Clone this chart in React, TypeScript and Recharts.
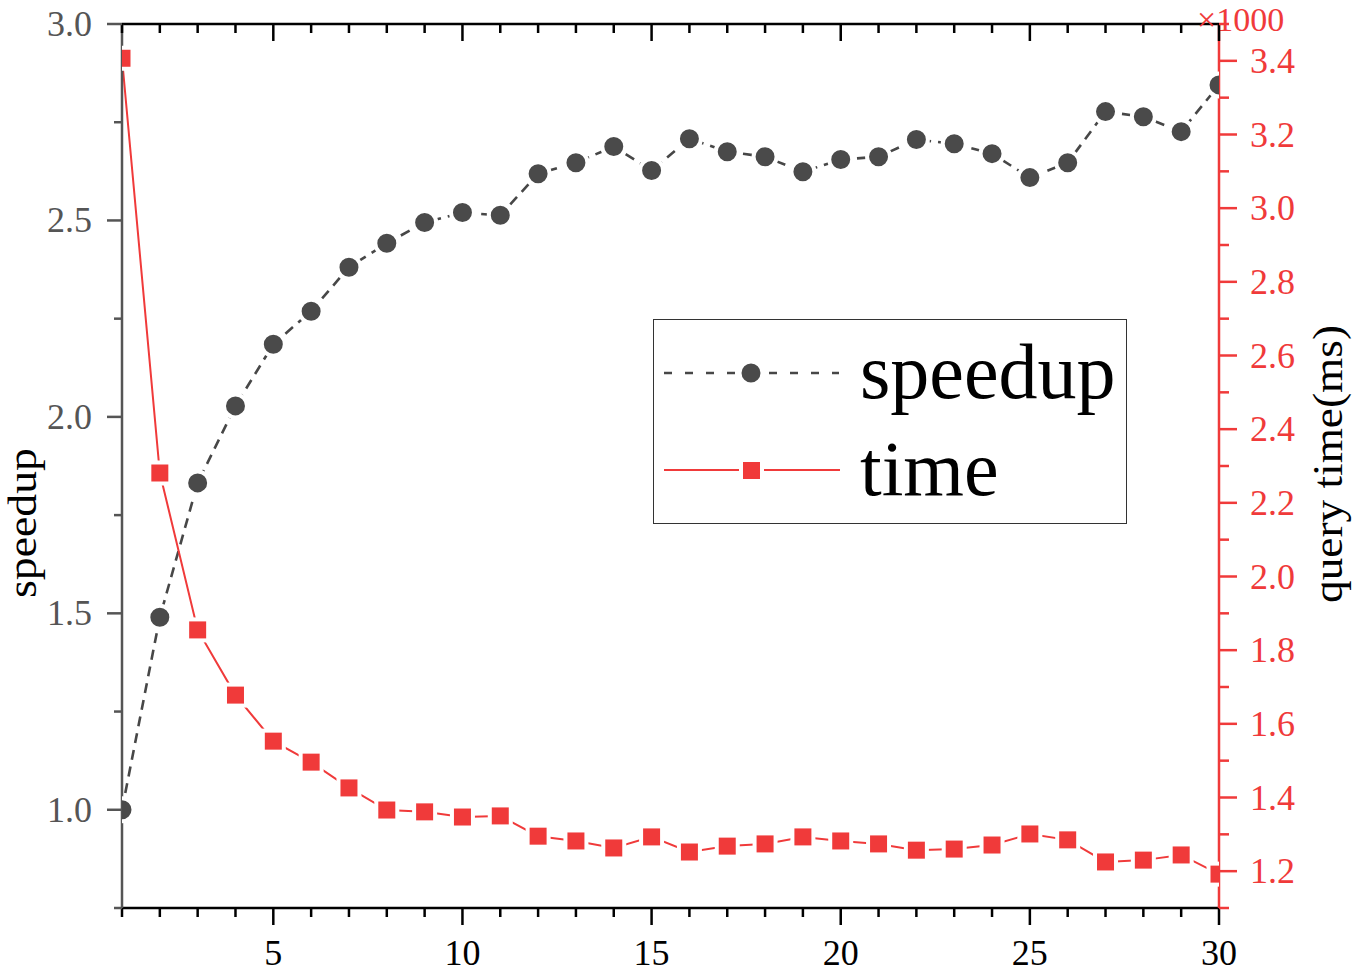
import React from 'react';
import { LineChart, Line, XAxis, YAxis, Legend } from 'recharts';

const xValues = [1, 2, 3, 4, 5, 6, 7, 8, 9, 10, 11, 12, 13, 14, 15, 16, 17, 18, 19, 20, 21, 22, 23, 24, 25, 26, 27, 28, 29, 30];
const speedupValues = [1.0, 1.49, 1.832, 2.028, 2.185, 2.269, 2.381, 2.442, 2.495, 2.52, 2.513, 2.619, 2.647, 2.688, 2.627, 2.708, 2.675, 2.662, 2.624, 2.655, 2.662, 2.706, 2.695, 2.67, 2.609, 2.647, 2.777, 2.764, 2.726, 2.845];
const timeValues = [3407, 2281, 1855, 1678, 1553, 1496, 1426, 1366, 1361, 1347, 1350, 1295, 1282, 1263, 1293, 1252, 1268, 1274, 1293, 1282, 1274, 1257, 1260, 1271, 1301, 1285, 1225, 1230, 1244, 1192];

const xTicks = xValues;
const leftTicks = [0.75, 1.0, 1.25, 1.5, 1.75, 2.0, 2.25, 2.5, 2.75, 3.0];
const rightTicks = [1100, 1200, 1300, 1400, 1500, 1600, 1700, 1800, 1900, 2000, 2100, 2200, 2300, 2400, 2500, 2600, 2700, 2800, 2900, 3000, 3100, 3200, 3300, 3400, 3500];

const data = xValues.map((x, i) => ({ x, speedup: speedupValues[i], time: timeValues[i] }));

const RED = '#F03A3A';
const GRAY = '#555555';
const LINEGRAY = '#474747';
const DOT = '#4a4a4a';
const FONT = '"Liberation Serif", "Times New Roman", serif';

const BottomTick = (props: any) => {
  const { x, y, payload } = props;
  const v = payload.value;
  const major = v % 5 === 0;
  return (
    <g>
      <line x1={x} y1={y} x2={x} y2={y + (major ? 17 : 9)} stroke="#000" strokeWidth={2.5} />
      {major && (
        <text x={x} y={y + 57} textAnchor="middle" fontSize={36} fontFamily={FONT} fill="#000">
          {v}
        </text>
      )}
    </g>
  );
};

const TopTick = (props: any) => {
  const { x, y, payload } = props;
  const v = payload.value;
  const major = v % 5 === 0;
  return <line x1={x} y1={y} x2={x} y2={y + (major ? 17 : 9)} stroke="#000" strokeWidth={2.5} />;
};

const LeftTick = (props: any) => {
  const { x, y, payload } = props;
  const v = payload.value;
  const major = Math.abs(v * 2 - Math.round(v * 2)) < 1e-6;
  return (
    <g>
      <line x1={x} y1={y} x2={x - (major ? 15 : 8)} y2={y} stroke={GRAY} strokeWidth={2.5} />
      {major && (
        <text x={x - 30} y={y + 12} textAnchor="end" fontSize={36} fontFamily={FONT} fill={GRAY}>
          {v.toFixed(1)}
        </text>
      )}
    </g>
  );
};

const RightTick = (props: any) => {
  const { x, y, payload } = props;
  const v = payload.value;
  const major = v % 200 === 0;
  return (
    <g>
      <line x1={x} y1={y} x2={x + (major ? 18 : 10)} y2={y} stroke={RED} strokeWidth={2.5} />
      {major && (
        <text x={x + 31} y={y + 12} textAnchor="start" fontSize={36} fontFamily={FONT} fill={RED}>
          {(v / 1000).toFixed(1)}
        </text>
      )}
    </g>
  );
};

const CircleDot = (props: any) => {
  const { cx, cy, index } = props;
  if (cx == null || cy == null) return <g key={`ci-${index}`} />;
  return <circle key={`ci-${index}`} cx={cx} cy={cy} r={11.5} fill={DOT} stroke="#fff" strokeWidth={4} />;
};

const SquareDot = (props: any) => {
  const { cx, cy, index } = props;
  if (cx == null || cy == null) return <g key={`sq-${index}`} />;
  return <rect key={`sq-${index}`} x={cx - 10.5} y={cy - 10.5} width={21} height={21} fill={RED} stroke="#fff" strokeWidth={4} />;
};

const LegendBox = () => (
  <div style={{ width: 474, height: 205, border: '1.5px solid #333', boxSizing: 'border-box', background: '#fff' }}>
    <svg width={471} height={202} style={{ display: 'block' }}>
      <line x1={10} y1={53} x2={185} y2={53} stroke={LINEGRAY} strokeWidth={2.5} strokeDasharray="8 13" />
      <circle cx={97} cy={53} r={11.5} fill={DOT} stroke="#fff" strokeWidth={4} />
      <text x={206} y={78} fontSize={78} fontFamily={FONT} fill="#000">speedup</text>
      <line x1={10} y1={150} x2={186} y2={150} stroke={RED} strokeWidth={2} />
      <rect x={87} y={140} width={21} height={21} fill={RED} stroke="#fff" strokeWidth={4} />
      <text x={206} y={175} fontSize={78} fontFamily={FONT} fill="#000">time</text>
    </svg>
  </div>
);

export default function App() {
  return (
    <div style={{ position: 'absolute', left: 0, top: 0, width: 1354, height: 973, background: '#fff' }}>
      <LineChart width={1354} height={973} data={data} margin={{ top: 23, right: 0, bottom: 0, left: 0 }}>
        <Line
          xAxisId="bottom"
          yAxisId="left"
          type="linear"
          dataKey="speedup"
          name="speedup"
          stroke={LINEGRAY}
          strokeWidth={2.6}
          strokeDasharray="10 7"
          dot={CircleDot}
          activeDot={false}
          isAnimationActive={false}
        />
        <Line
          xAxisId="bottom"
          yAxisId="right"
          type="linear"
          dataKey="time"
          name="time"
          stroke={RED}
          strokeWidth={2}
          dot={SquareDot}
          activeDot={false}
          isAnimationActive={false}
        />
        <XAxis
          xAxisId="bottom"
          dataKey="x"
          type="number"
          domain={[1, 30]}
          ticks={xTicks}
          interval={0}
          allowDataOverflow
          height={65}
          tickSize={0}
          tickMargin={0}
          tickLine={false}
          axisLine={{ stroke: '#000', strokeWidth: 2.5 }}
          tick={BottomTick}
        />
        <XAxis
          xAxisId="top"
          orientation="top"
          dataKey="x"
          type="number"
          domain={[1, 30]}
          ticks={xTicks}
          interval={0}
          allowDataOverflow
          height={1}
          tickSize={0}
          tickMargin={0}
          tickLine={false}
          axisLine={{ stroke: '#000', strokeWidth: 2.5 }}
          tick={TopTick}
        />
        <YAxis
          yAxisId="left"
          type="number"
          domain={[0.75, 3.0]}
          ticks={leftTicks}
          interval={0}
          allowDataOverflow
          width={122}
          tickSize={0}
          tickMargin={0}
          tickLine={false}
          axisLine={{ stroke: GRAY, strokeWidth: 2.5 }}
          tick={LeftTick}
          label={() => (
            <text
              x={22}
              y={523}
              transform="rotate(-90 22 523)"
              textAnchor="middle"
              dominantBaseline="central"
              fontSize={40}
              fontFamily={FONT}
              fill="#000"
              textLength={150}
              lengthAdjust="spacingAndGlyphs"
            >
              speedup
            </text>
          )}
        />
        <YAxis
          yAxisId="right"
          orientation="right"
          type="number"
          domain={[1100, 3500]}
          ticks={rightTicks}
          interval={0}
          allowDataOverflow
          width={135}
          tickSize={0}
          tickMargin={0}
          tickLine={false}
          axisLine={{ stroke: RED, strokeWidth: 2.5 }}
          tick={RightTick}
          label={() => (
            <g>
              <text
                x={1328}
                y={464}
                transform="rotate(-90 1328 464)"
                textAnchor="middle"
                dominantBaseline="central"
                fontSize={42}
                fontFamily={FONT}
                fill="#000"
                textLength={278}
                lengthAdjust="spacingAndGlyphs"
              >
                query time(ms)
              </text>
              <text x={1197} y={31} fontSize={34} fontFamily={FONT} fill={RED}>
                ×1000
              </text>
            </g>
          )}
        />
        <Legend
          layout="vertical"
          align="center"
          verticalAlign="middle"
          content={LegendBox}
          wrapperStyle={{ left: 653, top: 319, width: 474, height: 205 }}
        />
      </LineChart>
    </div>
  );
}
